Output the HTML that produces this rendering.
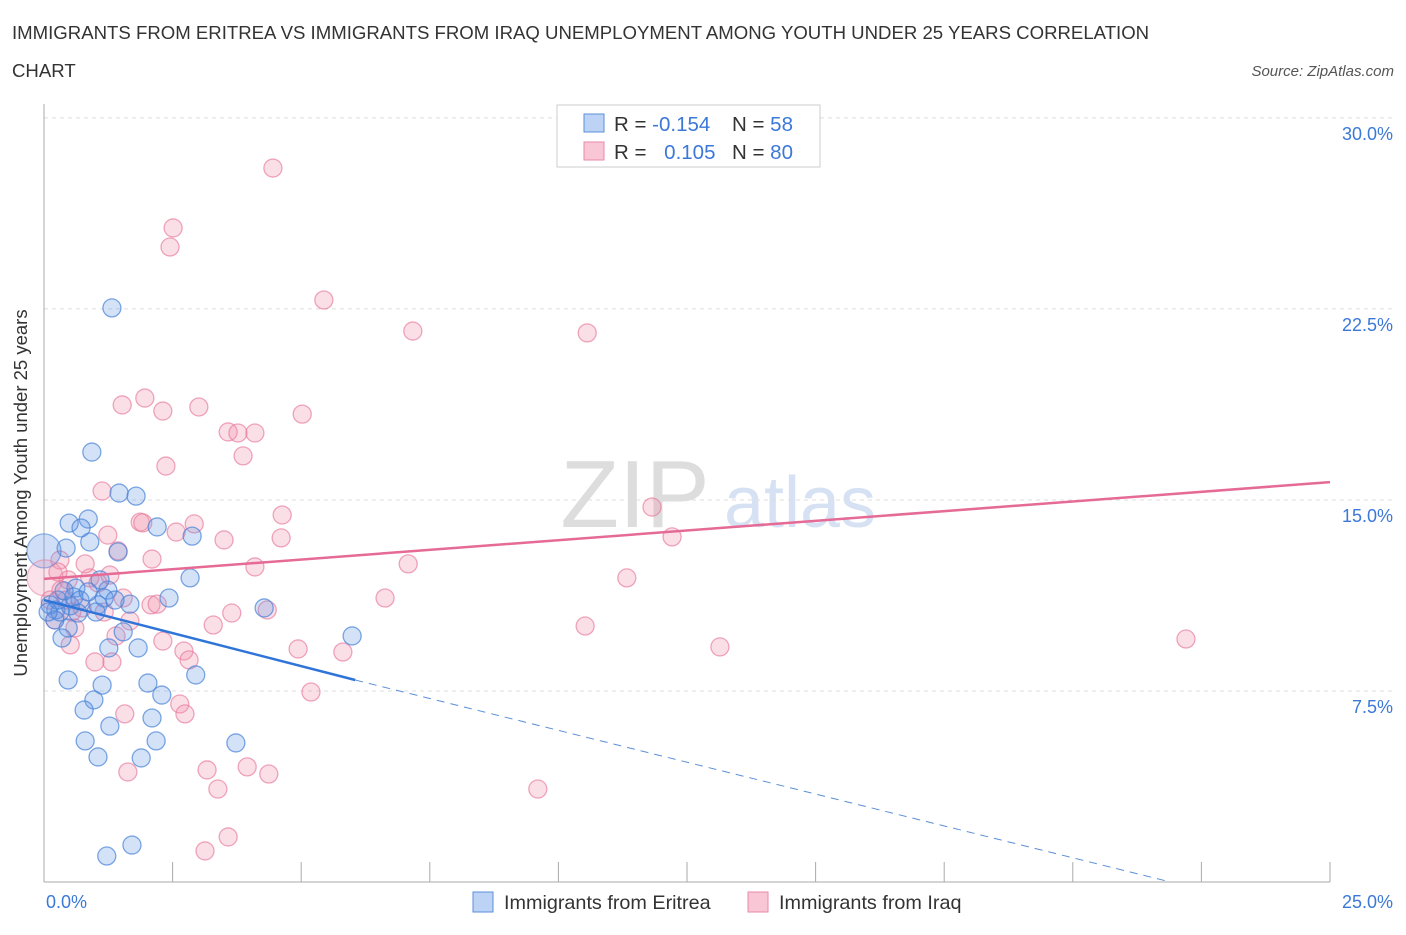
<!DOCTYPE html>
<html><head><meta charset="utf-8"><style>
body{margin:0;background:#fff;font-family:"Liberation Sans",sans-serif}
svg text{font-family:"Liberation Sans",sans-serif}
</style></head><body>
<svg id="c" width="1406" height="930">
<text x="12" y="39" font-size="18.6" fill="#333">IMMIGRANTS FROM ERITREA VS IMMIGRANTS FROM IRAQ UNEMPLOYMENT AMONG YOUTH UNDER 25 YEARS CORRELATION</text>
<text x="12" y="77" font-size="18.6" fill="#333">CHART</text>
<text x="1394" y="76" font-size="15" fill="#555" font-style="italic" text-anchor="end">Source: ZipAtlas.com</text>
<text x="635" y="527" font-size="96" fill="#ddd" font-family="Liberation Serif" text-anchor="middle">ZIP</text>
<text x="800" y="527" font-size="72" fill="#d6e2f3" text-anchor="middle">atlas</text>
<g id="grid"></g>
<g id="axes"></g>
<g id="pts"></g>
<g id="lines"></g>
<text x="27" y="493" font-size="18.5" fill="#333" text-anchor="middle" transform="rotate(-90 27 493)">Unemployment Among Youth under 25 years</text>
<text x="46" y="908" font-size="18" fill="#3b78d8">0.0%</text>
<text x="1393" y="908" font-size="18" fill="#3b78d8" text-anchor="end">25.0%</text>
<g>
<rect x="557" y="105" width="263" height="62" fill="#fff" stroke="#ccc"/>
<rect x="584" y="114" width="20" height="18" fill="#bcd3f5" stroke="#5b8fd8"/>
<rect x="584" y="142" width="20" height="18" fill="#f8c6d5" stroke="#e98aa8"/>
<text x="614" y="131" font-size="20.5" fill="#333">R = <tspan fill="#3b78d8">-0.154</tspan></text>
<text x="732" y="131" font-size="20.5" fill="#333">N = <tspan fill="#3b78d8">58</tspan></text>
<text x="614" y="159" font-size="20.5" fill="#333">R = <tspan fill="#3b78d8" dx="12">0.105</tspan></text>
<text x="732" y="159" font-size="20.5" fill="#333">N = <tspan fill="#3b78d8">80</tspan></text>
</g>
<g>
<rect x="473" y="892" width="20" height="20" fill="#bcd3f5" stroke="#5b8fd8"/>
<text x="504" y="909" font-size="19.8" fill="#333">Immigrants from Eritrea</text>
<rect x="748" y="892" width="20" height="20" fill="#f8c6d5" stroke="#e98aa8"/>
<text x="779" y="909" font-size="19.8" fill="#333">Immigrants from Iraq</text>
</g>
</svg>
<script>
const yTicks=[7.5,15,22.5,30];
const yTickLabels=["7.5%","15.0%","22.5%","30.0%"];
const xTicks=[0,2.5,5,7.5,10,12.5,15,17.5,20,22.5,25];
const eritreaX=[1.32,0.93,1.46,1.79,0.49,0.86,0.72,2.20,2.88,0.89,0.43,1.44,2.84,2.43,4.28,5.99,1.24,1.17,0.62,0.70,0.51,0.23,1.05,1.67,0.21,0.47,0.35,1.26,1.83,1.54,2.95,0.47,1.13,2.02,2.29,0.97,0.78,2.10,1.28,0.80,2.18,3.73,1.05,1.89,1.71,1.22,0.12,0.31,0.66,1.01,1.09,0.58,0.27,0.39,0.08,0.86,1.38];
const eritreaY=[22.54,16.88,15.27,15.15,14.09,14.25,13.90,13.94,13.58,13.35,13.11,12.96,11.94,11.15,10.76,9.66,11.46,11.15,11.54,11.07,10.84,10.68,10.88,10.91,10.29,9.97,9.58,9.19,9.19,9.82,8.13,7.93,7.73,7.81,7.34,7.15,6.75,6.44,6.12,5.54,5.54,5.46,4.91,4.87,1.45,1.02,10.88,10.60,10.56,10.60,11.86,11.19,11.07,11.43,10.60,11.39,11.07];
const iraqX=[4.45,2.51,2.45,5.44,7.17,10.56,1.96,1.52,3.01,2.31,5.02,3.58,4.10,3.77,3.87,2.37,1.13,11.82,4.63,1.87,1.92,2.92,2.57,1.24,3.50,4.61,12.21,1.44,2.10,4.10,7.08,11.33,0.80,0.89,1.05,6.63,0.33,2.08,2.20,3.65,4.34,1.67,3.29,10.52,22.2,1.40,2.31,2.72,4.94,5.81,13.14,0.99,1.32,2.82,5.19,2.64,2.74,1.57,1.63,3.17,3.95,4.37,3.38,9.60,3.58,3.13,0.51,0.31,0.12,0.54,0.74,0.21,1.17,0.43,1.54,0.47,0.60,1.28,0.27];
const iraqY=[28.03,25.68,24.93,22.85,21.63,21.56,19.0,18.73,18.65,18.49,18.37,17.67,17.63,17.63,16.73,16.33,15.35,14.72,14.41,14.13,14.10,14.06,13.74,13.62,13.43,13.51,13.55,13.0,12.68,12.37,12.49,11.94,12.49,11.94,11.74,11.15,11.46,10.88,10.91,10.56,10.68,10.25,10.09,10.05,9.54,9.66,9.46,9.07,9.15,9.03,9.23,8.64,8.64,8.72,7.46,6.99,6.60,6.60,4.32,4.40,4.52,4.24,3.65,3.65,1.77,1.22,9.31,12.64,11.07,10.60,10.76,10.29,10.60,11.07,11.15,11.86,9.97,12.05,12.17];
const bigX=[0,0.02];const bigY=[13.0,11.94];
const eritreaTrend=[[0,11.07],[6.05,7.93],[21.9,0]];
const iraqTrend=[[0,11.90],[25,15.70]];
const NS='http://www.w3.org/2000/svg';
const sx=v=>44+v*51.44, sy=v=>882-v*25.47;
function mk(t,a,p){const e=document.createElementNS(NS,t);for(const k in a)e.setAttribute(k,a[k]);document.getElementById(p).appendChild(e);return e;}
yTicks.forEach((t,i)=>{
 const l=mk('line',{x1:44,x2:1394,y1:sy(t),y2:sy(t),stroke:'#ddd','stroke-dasharray':'4 4'},'grid');
 
 
 const tx=mk('text',{x:1393,y:sy(t)+22,'font-size':18,fill:'#3b78d8','text-anchor':'end'},'grid');
 tx.textContent=yTickLabels[i];
 
 
});
let a=mk('line',{x1:44,x2:44,y1:104,y2:882,stroke:'#aaa'},'axes');


a=mk('line',{x1:44,x2:1330,y1:882,y2:882,stroke:'#aaa'},'axes');


xTicks.forEach(t=>{const l=mk('line',{x1:sx(t),x2:sx(t),y1:862,y2:882,stroke:'#aaa'},'axes');
 
 });
function dots(X,Y,fill,stroke,name,r){X.forEach((x,i)=>{const c=mk('circle',{cx:sx(x),cy:sy(Y[i]),r:r,fill:fill,stroke:stroke,'stroke-width':1.3},'pts');
 
 });}
dots(iraqX,iraqY,'rgba(240,140,170,0.28)','rgba(230,120,155,0.65)','iraq-point',9);
dots(eritreaX,eritreaY,'rgba(100,150,230,0.28)','rgba(70,130,215,0.7)','eritrea-point',9);
dots([bigX[0]],[bigY[0]],'rgba(100,150,230,0.3)','rgba(70,130,215,0.6)','eritrea-point-large',17);
dots([bigX[1]],[bigY[1]],'rgba(240,140,170,0.25)','rgba(230,120,155,0.5)','iraq-point-large',18);
let L=mk('line',{x1:sx(eritreaTrend[0][0]),y1:sy(eritreaTrend[0][1]),x2:sx(eritreaTrend[1][0]),y2:sy(eritreaTrend[1][1]),stroke:'#2f74d8','stroke-width':2.5},'lines');


L=mk('line',{x1:sx(eritreaTrend[1][0]),y1:sy(eritreaTrend[1][1]),x2:sx(eritreaTrend[2][0]),y2:sy(eritreaTrend[2][1]),stroke:'#5b8fd8','stroke-width':1,'stroke-dasharray':'8 6'},'lines');


L=mk('line',{x1:sx(iraqTrend[0][0]),y1:sy(iraqTrend[0][1]),x2:sx(iraqTrend[1][0]),y2:sy(iraqTrend[1][1]),stroke:'#e56a95','stroke-width':2.5},'lines');


</script>
</body></html>
